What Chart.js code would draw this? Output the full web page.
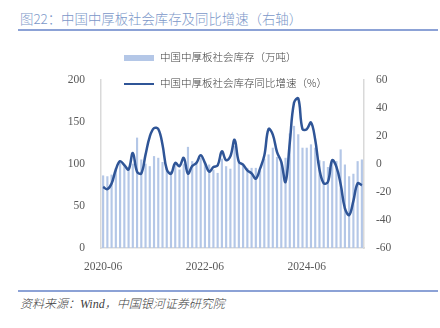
<!DOCTYPE html>
<html>
<head>
<meta charset="utf-8">
<script src="https://cdn.jsdelivr.net/npm/chart.js@4.4.1/dist/chart.umd.min.js"></script>
<style>
  html, body { margin: 0; padding: 0; background: #ffffff; }
  #wrap { position: relative; width: 440px; height: 328px; overflow: hidden; background: #fff; }
  #title { position: absolute; left: 20px; top: 8px; font-family: "Noto Sans CJK SC", sans-serif; font-weight: 300; font-size: 13.4px; color: #7b97c9; white-space: nowrap; }
  #tline { position: absolute; left: 18px; top: 29px; width: 420px; height: 1.5px; background: #8ca2d6; }
  #fline { position: absolute; left: 18px; top: 290px; width: 420px; height: 1.5px; background: #8ca2d6; }
  #foot { position: absolute; left: 20px; top: 294px; font-family: "Liberation Serif", "Noto Sans CJK SC", serif; font-weight: 300; font-style: italic; font-size: 12px; color: #404040; white-space: nowrap; }
  #chart { position: absolute; left: 0; top: 0; }
  .leg { position: absolute; left: 124px; font-family: "Noto Sans CJK SC", sans-serif; font-weight: 300; font-size: 10.5px; color: #404040; white-space: nowrap; height: 14px; line-height: 14px; }
  .sw { display: inline-block; vertical-align: middle; width: 30px; margin-right: 6px; }
</style>
</head>
<body>
<div id="wrap">
  <div id="title">图22：中国中厚板社会库存及同比增速（右轴）</div>
  <div id="tline"></div>
  <canvas id="chart" width="440" height="280"></canvas>
  <div class="leg" style="top:50px;"><span class="sw" style="height:6px;background:#b4c7e7;"></span>中国中厚板社会库存（万吨）</div>
  <div class="leg" style="top:76px;"><span class="sw" style="height:2.5px;background:#2f5597;"></span>中国中厚板社会库存同比增速（%）</div>
  <div id="fline"></div>
  <div id="foot">资料来源：Wind，中国银河证券研究院</div>
</div>
<script>
const months = [
  "2020-06","2020-07","2020-08","2020-09","2020-10","2020-11","2020-12",
  "2021-01","2021-02","2021-03","2021-04","2021-05","2021-06","2021-07","2021-08","2021-09","2021-10","2021-11","2021-12",
  "2022-01","2022-02","2022-03","2022-04","2022-05","2022-06","2022-07","2022-08","2022-09","2022-10","2022-11","2022-12",
  "2023-01","2023-02","2023-03","2023-04","2023-05","2023-06","2023-07","2023-08","2023-09","2023-10","2023-11","2023-12",
  "2024-01","2024-02","2024-03","2024-04","2024-05","2024-06","2024-07","2024-08","2024-09","2024-10","2024-11","2024-12",
  "2025-01","2025-02","2025-03","2025-04","2025-05","2025-06","2025-07"
];
const shownLabels = ["2020-06","2022-06","2024-06"];
const inventory = [
  86, 85, 87, 95, 103, 99, 95, 100, 131, 105, 100, 97, 109, 107, 102, 95, 91, 100, 93, 100,
  120, 103, 100, 107, 102, 99, 93, 89, 106, 97, 94, 121, 101, 98, 95, 95, 95, 92, 106, 111,
  119, 108, 102, 107, 136, 145, 135, 119, 119, 123, 119, 104, 103, 96, 103, 103, 117, 99, 85, 88,
  103, 105
];
const yoy = [
  -16.4, -18, -14, -3.9, 2, -0.8, -3.9, 7.9, -5.5, -6.7, 6.7, 19.6, 25.6, 25, 13.8, -3.9, -6.9, 0.8, -1.5, 4.4,
  -6.9, -1.5, 0.8, 6.2, 0.8, -5.5, -2.2, -1, 9, 2.7, 5.5, 17.3, 1.5, -0.4, -4.6, -6.7, -10.4, -3.3, 6, 25,
  21, 8.5, 1.5, -12.8, 15, 43.7, 46.8, 24.9, 24.9, 29.6, 17.3, -3.9, -13.8, -12.8, 2.7, -2, -14.5, -31.7, -36.4, -26.3,
  -13.8, -15.2
];
const leftTicks = [0, 50, 100, 150, 200];
const rightTicks = [-60, -40, -20, 0, 20, 40, 60];

const tickFont = { family: "'Liberation Serif', serif", size: 11.5 };
const axisGrey = '#d9d9d9';

new Chart(document.getElementById('chart'), {
  data: {
    labels: months,
    datasets: [
      {
        type: 'line', label: '中国中厚板社会库存同比增速（%）', data: yoy, yAxisID: 'y1',
        borderColor: '#2f5597', borderWidth: 2.5, pointRadius: 0, tension: 0.4, order: 0,
        cubicInterpolationMode: 'default', fill: false
      },
      {
        type: 'bar', label: '中国中厚板社会库存（万吨）', data: inventory, yAxisID: 'y',
        backgroundColor: '#b4c7e7', barThickness: 1.5, order: 1
      }
    ]
  },
  options: {
    responsive: false,
    animation: false,
    devicePixelRatio: 1,
    layout: { padding: { top: 80, left: 0, right: 0, bottom: 0 } },
    plugins: { legend: { display: false }, tooltip: { enabled: false } },
    scales: {
      x: {
        type: 'category', offset: true,
        grid: { display: false, drawTicks: false },
        border: { display: true, color: axisGrey, width: 1.5 },
        ticks: {
          autoSkip: false, maxRotation: 0, minRotation: 0, padding: 12,
          color: '#595959', font: tickFont,
          callback: function (v, i) { const l = months[i]; return shownLabels.includes(l) ? l : ''; }
        },
        afterFit: function (a) { a.height = 32; }
      },
      y: {
        position: 'left', min: 0, max: 200,
        grid: { display: false, drawTicks: false },
        border: { display: true, color: axisGrey, width: 1.5 },
        afterBuildTicks: function (a) { a.ticks = leftTicks.map(v => ({ value: v })); },
        ticks: { padding: 16, color: '#595959', font: tickFont },
        afterFit: function (a) { a.width = 101; }
      },
      y1: {
        position: 'right', min: -60, max: 60,
        grid: { display: false, drawTicks: false },
        border: { display: true, color: axisGrey, width: 1.5 },
        afterBuildTicks: function (a) { a.ticks = rightTicks.map(v => ({ value: v })); },
        ticks: { padding: 12, color: '#595959', font: tickFont },
        afterFit: function (a) { a.width = 76; }
      }
    }
  }
});
</script>
</body>
</html>
